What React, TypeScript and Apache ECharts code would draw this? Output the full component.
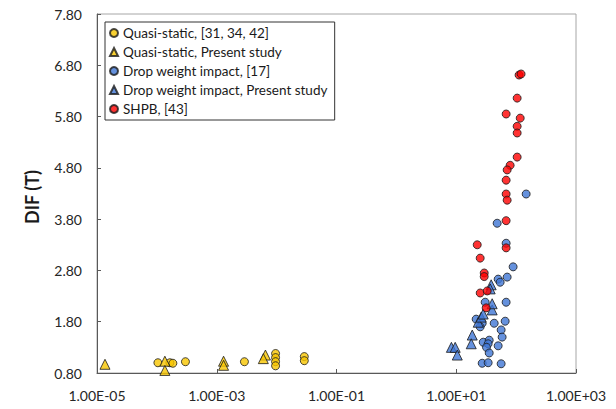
import { useEffect, useRef } from "react";
import * as echarts from "echarts";

// Axis tick positions
const xTicks = [1e-5, 1e-3, 1e-1, 1e1, 1e3];
const yTicks = [0.8, 1.8, 2.8, 3.8, 4.8, 5.8, 6.8, 7.8];

// Strain rate (1/s) vs. dynamic increase factor in tension
const quasiStaticRef: [number, number][] = [
  [1.04e-4, 1.0], [1.65e-4, 1.0], [1.85e-4, 0.99], [3.0e-4, 1.02],
  [2.9e-3, 1.02], [0.0096, 1.18], [0.0096, 1.1], [0.0096, 1.02],
  [0.0096, 0.94], [0.029, 1.12], [0.029, 1.04],
];
const quasiStaticPresent: [number, number][] = [
  [1.36e-5, 0.97], [1.36e-4, 1.03], [1.36e-4, 0.85], [1.3e-3, 1.03],
  [1.3e-3, 0.95], [6.5e-3, 1.15], [6.0e-3, 1.08],
];
const dropWeightRef: [number, number][] = [
  [48.2, 3.72], [68.1, 3.33], [147, 4.29], [89.1, 2.87], [70.8, 2.67],
  [50.1, 2.63], [54.1, 2.57], [30.4, 2.18], [68.1, 2.18], [21.5, 1.85],
  [27.1, 1.77], [25.1, 1.7], [43.0, 1.77], [65.6, 1.81], [56.2, 1.64],
  [58.4, 1.5], [28.2, 1.4], [35.5, 1.44], [34.1, 1.37], [50.1, 1.33],
  [32.0, 1.3], [35.5, 1.19], [27.1, 0.99], [34.1, 1.0], [56.2, 0.98],
];
const dropWeightPresent: [number, number][] = [
  [8.3, 1.3], [9.6, 1.3], [10.4, 1.15], [18.5, 1.54], [17.8, 1.37],
  [23.3, 1.79], [26.1, 1.89], [28.2, 1.95], [39.8, 2.03], [38.3, 2.52],
  [36.9, 2.44], [39.8, 2.15],
];
const shpbRef: [number, number][] = [
  [112, 6.61], [121, 6.63], [104, 6.16], [68.1, 5.85], [117, 5.77],
  [104, 5.61], [104, 5.48], [104, 5.01], [79.4, 4.85], [70.8, 4.76],
  [68.1, 4.56], [68.1, 4.29], [70.8, 4.17], [68.1, 3.77], [22.4, 3.3],
  [25.1, 3.04], [68.1, 3.24], [29.3, 2.75], [29.3, 2.68], [25.1, 2.36],
  [32.9, 2.4], [31.6, 2.07],
];

const seriesNames = [
  "Quasi-static, [31, 34, 42]",
  "Quasi-static, Present study",
  "Drop weight impact, [17]",
  "Drop weight impact, Present study",
  "SHPB, [43]",
];

const YELLOW = "#F7C600";
const BLUE = "#3F76D4";
const RED = "#FF0000";
const EDGE = "#1a1a1a";
const FONT = "Lato, 'Open Sans', sans-serif";

function sci(v: number): string {
  const e = Math.round(Math.log10(v));
  return `1.00E${e < 0 ? "-" : "+"}${String(Math.abs(e)).padStart(2, "0")}`;
}

function scatter(
  name: string,
  data: [number, number][],
  symbol: string,
  size: number,
  color: string
) {
  return {
    name,
    type: "scatter",
    data,
    symbol,
    symbolSize: size,
    itemStyle: { color, borderColor: EDGE, borderWidth: 1 },
  };
}

export default function App() {
  const ref = useRef<HTMLDivElement>(null);

  useEffect(() => {
    const chart = echarts.init(ref.current!, null, { renderer: "svg" });
    chart.setOption({
      animation: false,
      backgroundColor: "#ffffff",
      grid: {
        left: 97,
        top: 14,
        width: 479,
        height: 359,
        show: true,
        borderColor: "#a6a6a6",
        borderWidth: 1,
      },
      xAxis: {
        type: "log",
        logBase: 10,
        min: 1e-5,
        max: 1e3,
        axisLine: { show: true, onZero: false, lineStyle: { color: "#595959", width: 1 } },
        axisTick: {
          show: true,
          inside: true,
          length: 4,
          customValues: xTicks,
          lineStyle: { color: "#595959" },
        },
        axisLabel: {
          customValues: xTicks,
          formatter: (v: number) => sci(v),
          margin: 15,
          color: "#262626",
          fontSize: 14,
          fontFamily: FONT,
        },
        splitLine: { show: false },
        minorTick: { show: false },
      },
      yAxis: {
        type: "value",
        min: 0.8,
        max: 7.8,
        axisLine: { show: true, lineStyle: { color: "#595959", width: 1 } },
        axisTick: {
          show: true,
          inside: true,
          length: 4,
          customValues: yTicks,
          lineStyle: { color: "#595959" },
        },
        axisLabel: {
          customValues: yTicks,
          formatter: (v: number) => v.toFixed(2),
          margin: 15,
          color: "#262626",
          fontSize: 14,
          fontFamily: FONT,
        },
        splitLine: { show: false },
      },
      legend: {
        orient: "vertical",
        left: 105,
        top: 22,
        padding: [3, 7, 3, 4],
        itemWidth: 8,
        itemHeight: 8,
        itemGap: 3,
        borderColor: "#333333",
        borderWidth: 1,
        backgroundColor: "#ffffff",
        textStyle: {
          fontFamily: FONT,
          fontSize: 13.5,
          lineHeight: 16,
          color: "#1a1a1a",
        },
        data: seriesNames,
      },
      graphic: [
        {
          type: "text",
          x: 32,
          y: 197,
          rotation: Math.PI / 2,
          style: {
            text: "DIF (T)",
            fontFamily: FONT,
            fontSize: 18,
            fontWeight: "bold",
            fill: "#1a1a1a",
            align: "center",
            verticalAlign: "middle",
          },
        },
      ],
      series: [
        scatter(seriesNames[0], quasiStaticRef, "circle", 8, YELLOW),
        scatter(seriesNames[1], quasiStaticPresent, "triangle", 10, YELLOW),
        scatter(seriesNames[2], dropWeightRef, "circle", 8, BLUE),
        scatter(seriesNames[3], dropWeightPresent, "triangle", 10, BLUE),
        scatter(seriesNames[4], shpbRef, "circle", 8, RED),
      ],
    });
    return () => chart.dispose();
  }, []);

  return (
    <div
      ref={ref}
      style={{ position: "fixed", left: 0, top: 0, width: 616, height: 409 }}
    />
  );
}
